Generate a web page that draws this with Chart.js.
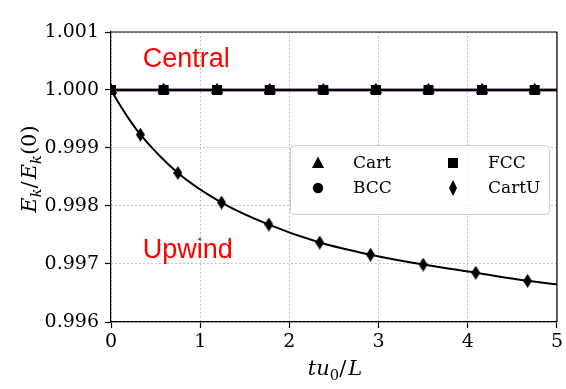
<!DOCTYPE html>
<html>
<head>
<meta charset="utf-8">
<script src="https://cdn.jsdelivr.net/npm/chart.js@4.4.1/dist/chart.umd.min.js"></script>
<style>
  html, body { margin: 0; padding: 0; background: #fff; }
  #wrap { width: 566px; height: 389px; }
</style>
</head>
<body>
<div id="wrap"><canvas id="energy"></canvas></div>
<script>
// times where the markers sit (shared by Cart, BCC and FCC)
const markT = [0, 0.59, 1.19, 1.78, 2.38, 2.97, 3.56, 4.16, 4.75];
const cartE = [1.0, 1.0, 1.0, 1.0, 1.0, 1.0, 1.0, 1.0, 1.0];
const bccE  = [1.0, 1.0, 1.0, 1.0, 1.0, 1.0, 1.0, 1.0, 1.0];
const fccE  = [1.0, 1.0, 1.0, 1.0, 1.0, 1.0, 1.0, 1.0, 1.0];

// central scheme lines, run to the end of the window
const centralT = [0, 5];
const centralE = [1.0, 1.0];

// upwind (CartU) markers
const cartUT = [0.33, 0.75, 1.24, 1.77, 2.34, 2.91, 3.50, 4.09, 4.67];
const cartUE = [0.99923, 0.99857, 0.99806, 0.99768, 0.99737, 0.99716, 0.99699, 0.99685, 0.99671];

// upwind decay curve
const upwindT = [0, 0.10, 0.21, 0.33, 0.75, 1.24, 1.77, 2.34, 2.91, 3.50, 4.09, 4.67, 5.0];
const upwindE = [1.0, 0.99974, 0.99948, 0.99923, 0.99857, 0.99806, 0.99768, 0.99737, 0.99716, 0.99699, 0.99685, 0.99671, 0.99665];

const xTicks = [0, 1, 2, 3, 4, 5];
const yTicks = [0.996, 0.997, 0.998, 0.999, 1.000, 1.001];

const pts = (xs, ys) => xs.map((x, i) => ({ x: x, y: ys[i] }));

// thin diamond marker (matplotlib 'd')
function thinDiamond(w, h) {
  const c = document.createElement('canvas');
  c.width = w; c.height = h;
  const g = c.getContext('2d');
  g.beginPath();
  g.moveTo(w / 2, 0); g.lineTo(w, h / 2); g.lineTo(w / 2, h); g.lineTo(0, h / 2);
  g.closePath();
  g.fillStyle = '#000';
  g.fill();
  return c;
}
const diamondImg = thinDiamond(9, 14);

const SERIF = '"DejaVu Serif", serif';

// draws a run of text pieces (italic / subscript), centred on 0
function drawRuns(ctx, runs, size) {
  const fontOf = r => (r.it ? 'italic ' : '') + (r.sub ? size * 0.7 : size) + 'px ' + SERIF;
  let total = 0;
  runs.forEach(r => { ctx.font = fontOf(r); r.w = ctx.measureText(r.t).width + (r.gap || 0); total += r.w; });
  let x = -total / 2;
  ctx.textBaseline = 'alphabetic';
  ctx.textAlign = 'left';
  runs.forEach(r => {
    ctx.font = fontOf(r);
    ctx.fillText(r.t, x + (r.pre || 0), r.sub ? size * 0.22 : 0);
    x += r.w;
  });
}

const decorations = {
  id: 'decorations',
  afterDatasetsDraw(chart) {
    const ctx = chart.ctx;
    const a = chart.chartArea;
    const xs = chart.scales.x, ys = chart.scales.y;
    ctx.save();

    // top and right frame
    ctx.strokeStyle = '#000';
    ctx.lineWidth = 1.2;
    ctx.beginPath();
    ctx.moveTo(a.left, a.top); ctx.lineTo(a.right, a.top); ctx.lineTo(a.right, a.bottom);
    ctx.stroke();

    // scheme labels
    ctx.fillStyle = '#ff0000';
    ctx.font = '27px "Liberation Sans", Arial, sans-serif';
    ctx.textBaseline = 'alphabetic';
    ctx.textAlign = 'left';
    ctx.fillText('Central', xs.getPixelForValue(0.356), ys.getPixelForValue(1.000393));
    ctx.fillText('Upwind', xs.getPixelForValue(0.356), ys.getPixelForValue(0.9971));

    // legend box
    const bx = 290, by = 145, bw = 259, bh = 69;
    ctx.fillStyle = 'rgba(255,255,255,0.85)';
    ctx.strokeStyle = '#cccccc';
    ctx.lineWidth = 1;
    ctx.beginPath();
    ctx.roundRect(bx + 0.5, by + 0.5, bw, bh, 4);
    ctx.fill();
    ctx.stroke();

    const rows = [163, 188];
    const cols = [[318, 353], [453, 488]];
    const entries = [
      { label: 'Cart', style: 'triangle', c: 0, r: 0 },
      { label: 'BCC', style: 'circle', c: 0, r: 1 },
      { label: 'FCC', style: 'rect', c: 1, r: 0 },
      { label: 'CartU', style: 'diamond', c: 1, r: 1 }
    ];
    ctx.fillStyle = '#000';
    entries.forEach(e => {
      const mx = cols[e.c][0], my = rows[e.r];
      ctx.beginPath();
      if (e.style === 'triangle') {
        ctx.moveTo(mx, my - 6.5); ctx.lineTo(mx + 6, my + 5); ctx.lineTo(mx - 6, my + 5); ctx.closePath();
      } else if (e.style === 'circle') {
        ctx.arc(mx, my, 5.2, 0, Math.PI * 2);
      } else if (e.style === 'rect') {
        ctx.rect(mx - 5, my - 5, 10, 10);
      } else {
        ctx.moveTo(mx, my - 8); ctx.lineTo(mx + 4, my); ctx.lineTo(mx, my + 8); ctx.lineTo(mx - 4, my); ctx.closePath();
      }
      ctx.fill();
      ctx.font = '17px ' + SERIF;
      ctx.textBaseline = 'middle';
      ctx.fillText(e.label, cols[e.c][1], my + 1);
    });

    // axis titles
    ctx.fillStyle = '#000';
    ctx.save();
    ctx.translate(335, 375);
    drawRuns(ctx, [
      { t: 't', it: true }, { t: 'u', it: true }, { t: '0', sub: true }, { t: '/', gap: 2 }, { t: 'L', it: true }
    ], 21);
    ctx.restore();

    ctx.save();
    ctx.translate(36, 169);
    ctx.rotate(-Math.PI / 2);
    drawRuns(ctx, [
      { t: 'E', it: true }, { t: 'k', it: true, sub: true }, { t: '/', gap: 2 },
      { t: 'E', it: true }, { t: 'k', it: true, sub: true }, { t: '(0)' }
    ], 21);
    ctx.restore();

    ctx.restore();
  }
};

const gridStyle = {
  color: '#b0b0b0',
  lineWidth: 1,
  tickColor: '#000',
  tickLength: 6,
  tickWidth: 1.2,
  tickBorderDash: []
};

// in v4 the grid line dash lives under border.dash
const borderStyle = { display: true, color: '#000', width: 1.2, dash: [1.5, 2.5] };

new Chart(document.getElementById('energy'), {
  type: 'scatter',
  data: {
    datasets: [
      { label: 'CartU', data: pts(cartUT, cartUE), pointStyle: diamondImg, showLine: false },
      { label: 'CartU line', data: pts(upwindT, upwindE), showLine: true, borderColor: '#000', borderWidth: 2,
        pointRadius: 0, cubicInterpolationMode: 'monotone' },
      { label: 'FCC', data: pts(markT, fccE), pointStyle: 'rect', pointRadius: 7.1, backgroundColor: '#000', borderWidth: 0, showLine: false },
      { label: 'BCC', data: pts(markT, bccE), pointStyle: 'circle', pointRadius: 5, backgroundColor: '#000', borderWidth: 0, showLine: false },
      { label: 'Cart', data: pts(markT, cartE), pointStyle: 'triangle', pointRadius: 6.5, backgroundColor: '#000', borderColor: '#2a0033', borderWidth: 1, showLine: false },
      { label: 'FCC line', data: pts(centralT, centralE), showLine: true, borderColor: '#000', borderWidth: 2.2, pointRadius: 0 },
      { label: 'Cart line', data: pts(centralT, centralE), showLine: true, borderColor: '#5a1670', borderWidth: 3.2, pointRadius: 0 }
    ]
  },
  options: {
    responsive: true,
    maintainAspectRatio: false,
    animation: false,
    events: [],
    layout: { padding: { top: 32, right: 6, left: 0, bottom: 0 } },
    plugins: { legend: { display: false }, tooltip: { enabled: false } },
    scales: {
      x: {
        type: 'linear',
        min: 0, max: 5,
        afterFit: s => { s.height = 67; },
        afterBuildTicks: s => { s.ticks = xTicks.map(v => ({ value: v })); },
        ticks: { color: '#000', font: { family: SERIF, size: 19 }, padding: 3, callback: v => String(v) },
        grid: gridStyle,
        border: borderStyle
      },
      y: {
        type: 'linear',
        min: 0.996, max: 1.001,
        afterFit: s => { s.width = 111; },
        afterBuildTicks: s => { s.ticks = yTicks.map(v => ({ value: v })); },
        ticks: { color: '#000', font: { family: SERIF, size: 19 }, padding: 6, callback: v => v.toFixed(3) },
        grid: gridStyle,
        border: borderStyle
      }
    }
  },
  plugins: [decorations]
});
</script>
</body>
</html>
